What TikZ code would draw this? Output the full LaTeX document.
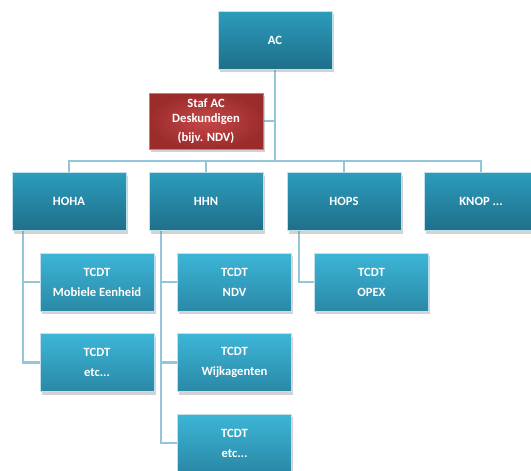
\documentclass[tikz,border=0pt]{standalone}
\usepackage{fontspec}
\setmainfont{Carlito}
\usetikzlibrary{shadows,backgrounds}
\definecolor{topA}{HTML}{2C9CBD}
\definecolor{botA}{HTML}{1F6F89}
\definecolor{topB}{HTML}{3DB6D8}
\definecolor{botB}{HTML}{2A88A6}
\definecolor{redIn}{HTML}{C54848}
\definecolor{redOut}{HTML}{9C2C2C}
\definecolor{conn}{HTML}{92C6D8}
\tikzset{
  x=1pt, y=-1pt,
  boxbase/.style={rectangle, minimum width=114pt, minimum height=58pt, inner sep=2pt,
    text=white, font=\bfseries\fontsize{12.6}{20}\selectfont, align=center,
    draw=white!70!topA, line width=0.4pt,
    drop shadow={opacity=0.35, shadow xshift=1.5pt, shadow yshift=-3pt}},
  topbox/.style={boxbase, top color=topA, bottom color=botA},
  childbox/.style={boxbase, top color=topB, bottom color=botB},
  redbox/.style={boxbase, inner color=redIn, outer color=redOut, draw=redOut!60!white,
    minimum height=56pt, font=\bfseries\fontsize{12.6}{15}\selectfont},
  link/.style={draw=conn, line width=2.4pt}
}
\begin{document}
\begin{tikzpicture}
\useasboundingbox (0,0) rectangle (531,471);
\begin{scope}
\clip (0,0) rectangle (531,471);
\node[topbox] (ac) at (275,40) {AC};
\node[redbox] (staf) at (206,121) {Staf AC\\Deskundigen\\[4pt](bijv. NDV)};
\node[topbox] (hoha) at (69,201.5) {HOHA};
\node[topbox] (hhn) at (206,201.5) {HHN};
\node[topbox] (hops) at (344,201.5) {HOPS};
\node[topbox] (knop) at (481,201.5) {KNOP ...};
\node[childbox] (me) at (97,282) {TCDT\\Mobiele Eenheid};
\node[childbox] (etc1) at (97,362.5) {TCDT\\etc...};
\node[childbox] (ndv) at (234.5,282) {TCDT\\NDV};
\node[childbox] (wijk) at (234.5,362.5) {TCDT\\Wijkagenten};
\node[childbox] (etc2) at (234.5,443) {TCDT\\etc...};
\node[childbox] (opex) at (371.5,282) {TCDT\\OPEX};
\begin{pgfonlayer}{background}
\fill[white] (0,0) rectangle (531,471);
\coordinate (bar) at (275,161);
\coordinate (dhoha) at (23,231);
\coordinate (dhhn) at (161,231);
\coordinate (dhops) at (299,231);
\draw[link] (ac.south) -- (bar);
\draw[link] (staf.east) -- (staf.east -| ac.south);
\draw[link] (hoha.north) |- (bar) -| (knop.north);
\draw[link] (hhn.north) -- (hhn.north |- bar);
\draw[link] (hops.north) -- (hops.north |- bar);
\draw[link] (dhoha) |- (etc1.west);
\draw[link] (dhoha |- me.west) -- (me.west);
\draw[link] (dhhn) |- (etc2.west);
\draw[link] (dhhn |- ndv.west) -- (ndv.west);
\draw[link] (dhhn |- wijk.west) -- (wijk.west);
\draw[link] (dhops) |- (opex.west);
\end{pgfonlayer}
\end{scope}
\end{tikzpicture}
\end{document}
